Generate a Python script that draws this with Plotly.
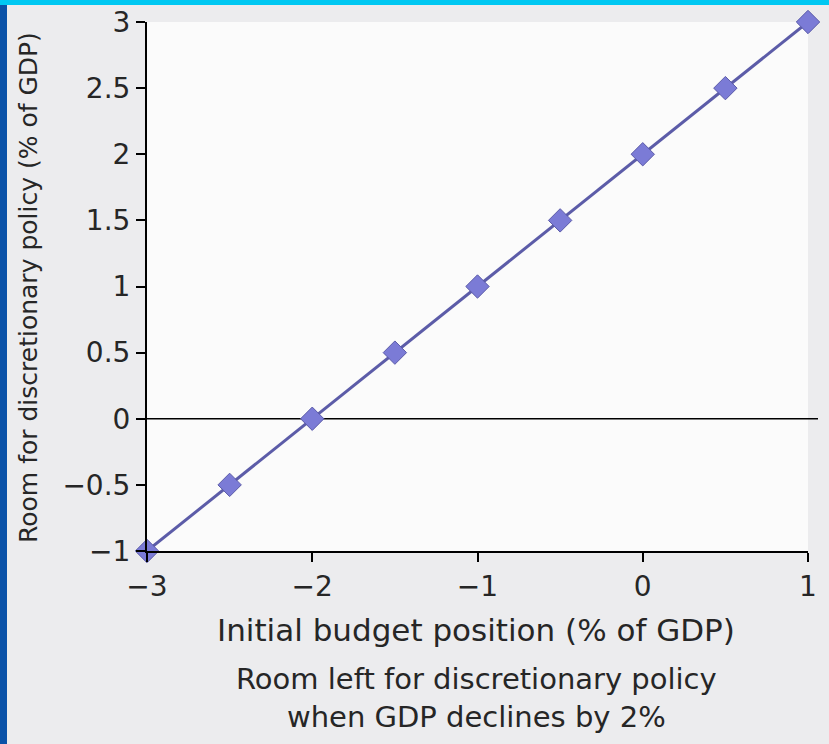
import plotly.graph_objects as go

budget_position = [-3, -2.5, -2, -1.5, -1, -0.5, 0, 0.5, 1]
room_for_policy = [-1, -0.5, 0, 0.5, 1, 1.5, 2, 2.5, 3]
x_ticks = [-3, -2, -1, 0, 1]
x_tick_labels = ["−3", "−2", "−1", "0", "1"]
y_ticks = [-1, -0.5, 0, 0.5, 1, 1.5, 2, 2.5, 3]
y_tick_labels = ["−1", "−0.5", "0", "0.5", "1", "1.5", "2", "2.5", "3"]

W, H = 829, 744
L, R, T, B = 147, 21, 22, 193
pw, ph = W - L - R, H - T - B

def px(xp):
    return (xp - L) / pw

def py(yp):
    return (H - B - yp) / ph

FONT = "DejaVu Sans"
TXT = "#262626"

fig = go.Figure()
fig.add_trace(go.Scatter(
    x=budget_position, y=room_for_policy, mode="lines+markers",
    line=dict(color="#5c5ca8", width=3),
    marker=dict(symbol="diamond", size=18, color="#7b7bd6",
                line=dict(color="#5a5aa8", width=1)),
    cliponaxis=False, showlegend=False, hoverinfo="skip",
))

shapes = [
    dict(type="line", xref="paper", yref="y", x0=0, x1=px(818), y0=0, y1=0,
         line=dict(color="black", width=1.5), layer="below"),
    dict(type="rect", xref="paper", yref="paper", x0=px(0), x1=px(7),
         y0=py(H), y1=py(0), fillcolor="#0a52a8", line=dict(width=0)),
    dict(type="rect", xref="paper", yref="paper", x0=px(0), x1=px(W),
         y0=py(5), y1=py(0), fillcolor="#00c8f2", line=dict(width=0)),
]

annotations = [
    dict(text="Initial budget position (% of GDP)",
         xref="paper", yref="paper", x=px(476), y=py(630), xanchor="center",
         yanchor="middle", showarrow=False,
         font=dict(family=FONT, size=31, color=TXT)),
    dict(text="Room left for discretionary policy<br>when GDP declines by 2%",
         xref="paper", yref="paper", x=px(476), y=py(698), xanchor="center",
         yanchor="middle", showarrow=False,
         font=dict(family=FONT, size=29, color=TXT)),
    dict(text="Room for discretionary policy (% of GDP)",
         xref="paper", yref="paper", x=px(28), y=py(288), xanchor="center",
         yanchor="middle", textangle=-90, showarrow=False,
         font=dict(family=FONT, size=25, color=TXT)),
]

fig.update_layout(
    width=W, height=H,
    margin=dict(l=L, r=R, t=T, b=B, autoexpand=False),
    paper_bgcolor="#ececee", plot_bgcolor="#fbfbfb",
    shapes=shapes, annotations=annotations,
    font=dict(family=FONT, color=TXT),
    xaxis=dict(range=[-3, 1], tickvals=x_ticks, ticktext=x_tick_labels,
               showgrid=False, zeroline=False, showline=True,
               linecolor="black", linewidth=2, ticks="outside",
               ticklen=9, tickwidth=2, tickcolor="black",
               tickfont=dict(size=28)),
    yaxis=dict(range=[-1, 3], tickvals=y_ticks, ticktext=y_tick_labels,
               showgrid=False, zeroline=False, showline=True,
               linecolor="black", linewidth=2, ticks="outside",
               ticklen=9, tickwidth=2, tickcolor="black",
               tickfont=dict(size=28)),
)

fig.write_html("out.html", config={"displayModeBar": False},
               post_script="document.body.style.margin='0';document.body.style.padding='0';")
